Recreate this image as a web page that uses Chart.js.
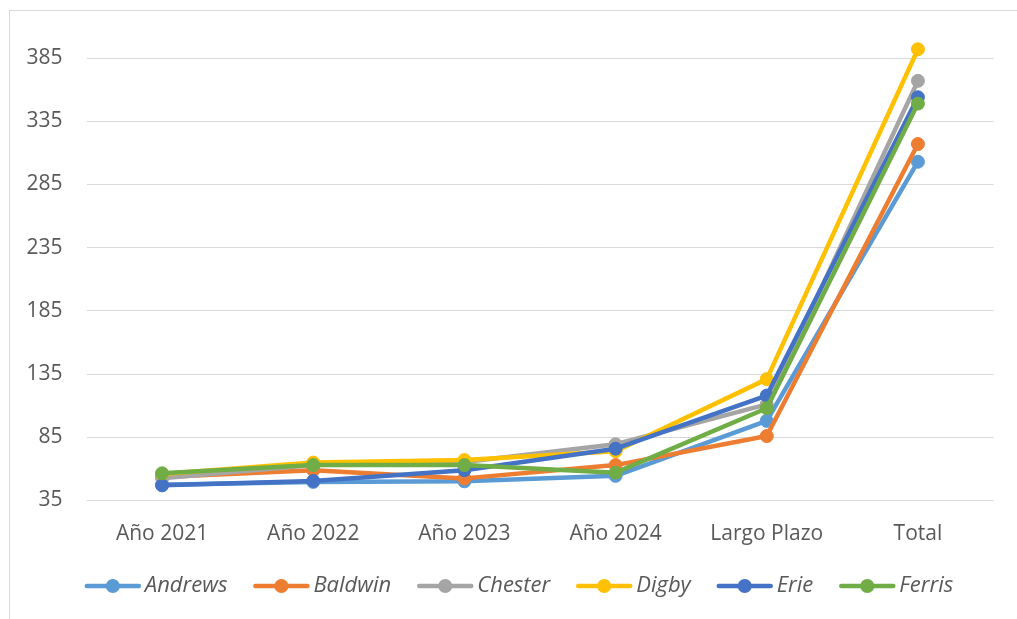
<!DOCTYPE html>
<html>
<head>
<meta charset="utf-8">
<script src="https://cdn.jsdelivr.net/npm/chart.js@4.4.1/dist/chart.umd.min.js"></script>
<style>
  html, body { margin: 0; padding: 0; background: #ffffff; }
  body { width: 1017px; height: 619px; position: relative; overflow: hidden; }
  #frame { position: absolute; left: 9px; top: 10px; width: 1100px; height: 700px;
           border-left: 1px solid #d9d9d9; border-top: 1px solid #d9d9d9; }
  #wrap { position: absolute; left: 0; top: 0; width: 1017px; height: 619px; }
</style>
</head>
<body>
<div id="frame"></div>
<div id="wrap"><canvas id="chart" width="1017" height="619"></canvas></div>
<script>
// Categories and series
const categories = ['Año 2021', 'Año 2022', 'Año 2023', 'Año 2024', 'Largo Plazo', 'Total'];
const seriesNames = ['Andrews', 'Baldwin', 'Chester', 'Digby', 'Erie', 'Ferris'];
const andrews = [47.5, 49.7, 50.2, 54.5, 98, 303];
const baldwin = [53.5, 59, 52.5, 63, 86, 317];
const chester = [52.5, 63, 65.5, 79.5, 111, 367];
const digby   = [56, 65, 67, 74, 131, 392];
const erie    = [47, 50.5, 59, 76, 118, 354];
const ferris  = [56.5, 63, 63, 57, 108, 349];
const yTicks  = [35, 85, 135, 185, 235, 285, 335, 385];

const seriesValues = [andrews, baldwin, chester, digby, erie, ferris];
const seriesColors = ['#5B9BD5', '#ED7D31', '#A5A5A5', '#FFC000', '#4472C4', '#70AD47'];

const FONT = '"Open Sans", "DejaVu Sans", sans-serif';

const datasets = seriesNames.map((name, i) => ({
  label: name,
  data: seriesValues[i],
  borderColor: seriesColors[i],
  backgroundColor: seriesColors[i],
  borderWidth: 4.5,
  borderCapStyle: 'round',
  borderJoinStyle: 'round',
  pointRadius: 6.5,
  pointBorderWidth: 1,
  pointBackgroundColor: seriesColors[i],
  pointBorderColor: seriesColors[i],
  pointHoverRadius: 6.5,
  tension: 0,
  // later series sit on top of earlier ones
  order: seriesNames.length - i
}));

// Legend drawn under the axis: a short line with a marker, then the name in italics
const lineLegend = {
  id: 'lineLegend',
  afterDraw(chart, args, opts) {
    const ctx = chart.ctx;
    ctx.save();
    ctx.font = 'italic 22px ' + FONT;
    const lineLen = 56, gapText = 4, gapItem = 26;
    const widths = chart.data.datasets.map(d => lineLen + gapText + ctx.measureText(d.label).width);
    const total = widths.reduce((a, b) => a + b, 0) + gapItem * (widths.length - 1);
    let x = opts.centerX - total / 2;
    const y = opts.y;
    chart.data.datasets.forEach((d, i) => {
      ctx.strokeStyle = d.borderColor;
      ctx.lineWidth = 4.5;
      ctx.lineCap = 'round';
      ctx.beginPath();
      ctx.moveTo(x + 2, y);
      ctx.lineTo(x + lineLen - 2, y);
      ctx.stroke();
      ctx.fillStyle = d.borderColor;
      ctx.beginPath();
      ctx.arc(x + lineLen / 2, y, 7, 0, Math.PI * 2);
      ctx.fill();
      ctx.fillStyle = '#595959';
      ctx.textBaseline = 'middle';
      ctx.textAlign = 'left';
      ctx.fillText(d.label, x + lineLen + gapText, y);
      x += widths[i] + gapItem;
    });
    ctx.restore();
  }
};

new Chart(document.getElementById('chart'), {
  type: 'line',
  data: { labels: categories, datasets },
  plugins: [lineLegend],
  options: {
    responsive: false,
    animation: false,
    layout: { padding: { top: 16, right: 23.5, left: 0, bottom: 0 } },
    plugins: {
      legend: { display: false },
      tooltip: { enabled: false },
      lineLegend: { centerX: 519, y: 586 }
    },
    scales: {
      x: {
        offset: true,
        grid: { display: false, drawTicks: false },
        border: { display: false },
        ticks: { color: '#595959', font: { family: FONT, size: 21 }, padding: 21, maxRotation: 0 },
        afterFit(scale) { scale.height = 118.5; }
      },
      y: {
        min: 35,
        max: 402,
        afterBuildTicks(scale) { scale.ticks = yTicks.map(v => ({ value: v })); },
        grid: { color: '#d9d9d9', lineWidth: 1, drawTicks: false },
        border: { display: false },
        ticks: { color: '#595959', font: { family: FONT, size: 21 }, padding: 24 },
        afterFit(scale) { scale.width = 86.5; }
      }
    }
  }
});
</script>
</body>
</html>
